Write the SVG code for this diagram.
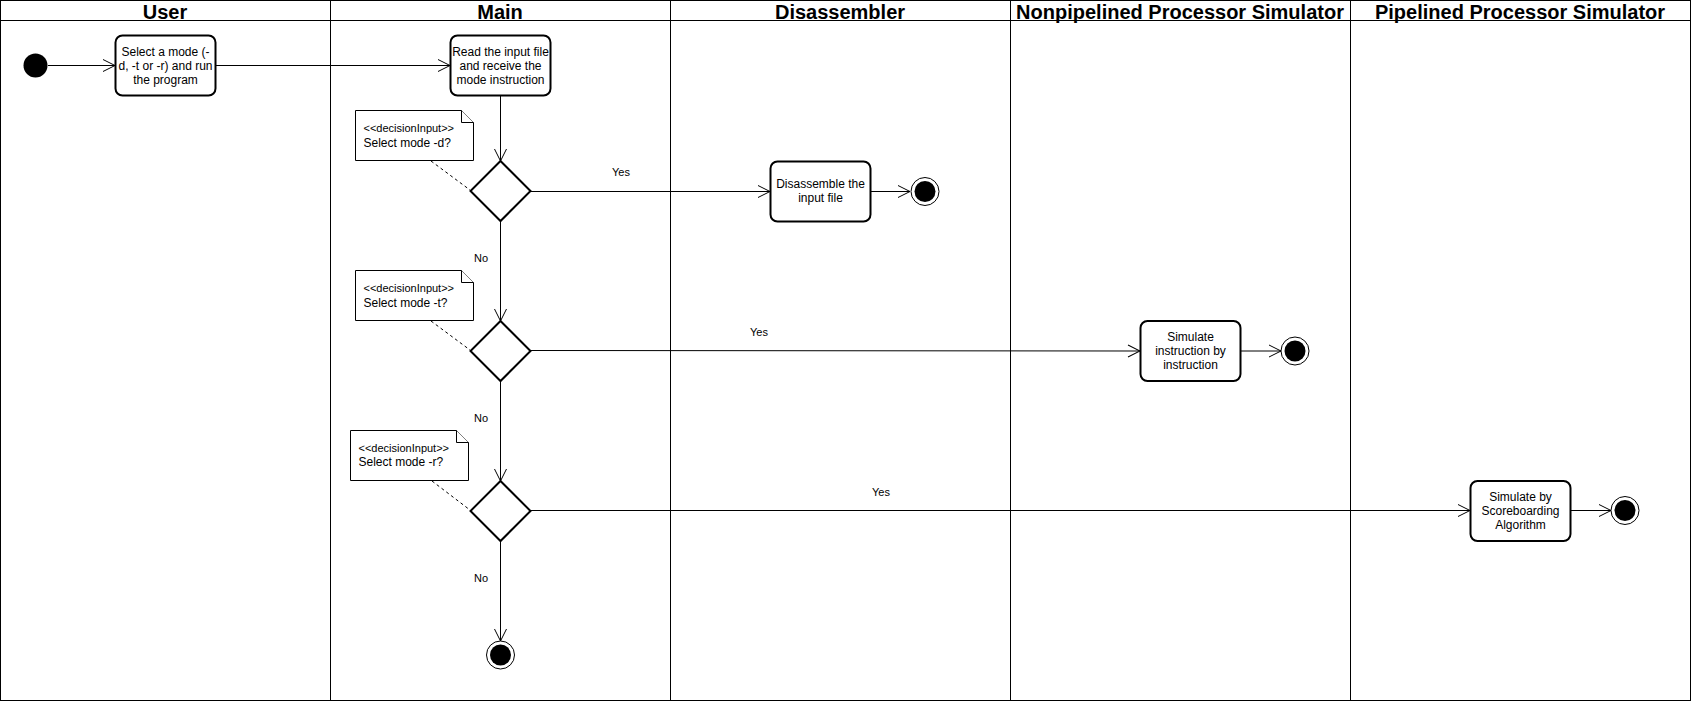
<svg xmlns="http://www.w3.org/2000/svg" width="1692" height="702" viewBox="0 0 1692 702">
<defs>
<style>
.lane{fill:none;stroke:#000;stroke-width:1}
.hdr{font-family:"Liberation Sans",Arial,sans-serif;font-size:20px;font-weight:bold;text-anchor:middle;fill:#000}
.act{fill:#fff;stroke:#000;stroke-width:2}
.t{font-family:"Liberation Sans",Arial,sans-serif;font-size:12px;text-anchor:middle;fill:#000}
.nt{font-family:"Liberation Sans",Arial,sans-serif;font-size:12px;fill:#000}
.st{font-family:"Liberation Sans",Arial,sans-serif;font-size:11px;fill:#000}
.lbl{font-family:"Liberation Sans",Arial,sans-serif;font-size:11px;text-anchor:middle;fill:#000}
.note{fill:#fff;stroke:#000;stroke-width:1}
.edge{fill:none;stroke:#000;stroke-width:1;marker-end:url(#open)}
.dash{fill:none;stroke:#000;stroke-width:1;stroke-dasharray:3,3}
</style>
<marker id="open" viewBox="0 0 14 14" refX="13" refY="7" markerWidth="14" markerHeight="14" markerUnits="userSpaceOnUse" orient="auto">
<path d="M1,1 L13,7 L1,13" fill="none" stroke="#000" stroke-width="1"/>
</marker>
</defs>
<rect width="1692" height="702" fill="#fff"/>
<g id="pool">
<rect class="lane" x="0.5" y="0.5" width="1690" height="700"/>
<line class="lane" x1="0" y1="20.5" x2="1691" y2="20.5"/>
<line class="lane" x1="330.5" y1="0" x2="330.5" y2="701"/>
<line class="lane" x1="670.5" y1="0" x2="670.5" y2="701"/>
<line class="lane" x1="1010.5" y1="0" x2="1010.5" y2="701"/>
<line class="lane" x1="1350.5" y1="0" x2="1350.5" y2="701"/>
<text class="hdr" x="165" y="19">User</text>
<text class="hdr" x="500" y="19">Main</text>
<text class="hdr" x="840" y="19">Disassembler</text>
<text class="hdr" x="1180" y="19">Nonpipelined Processor Simulator</text>
<text class="hdr" x="1520" y="19">Pipelined Processor Simulator</text>
</g>
<g id="connectors">
<line class="edge" x1="48" y1="65.5" x2="115" y2="65.5"/>
<line class="edge" x1="216" y1="65.5" x2="450" y2="65.5"/>
<line class="edge" x1="500.5" y1="96" x2="500.5" y2="161"/>
<line class="edge" x1="531" y1="191.5" x2="770" y2="191.5"/>
<line class="edge" x1="871" y1="191.5" x2="910" y2="191.5"/>
<line class="edge" x1="500.5" y1="222" x2="500.5" y2="321"/>
<line class="edge" x1="531" y1="350.5" x2="1140" y2="351"/>
<line class="edge" x1="1241" y1="351" x2="1281" y2="351"/>
<line class="edge" x1="500.5" y1="381" x2="500.5" y2="481"/>
<line class="edge" x1="531" y1="510.5" x2="1470" y2="510.5"/>
<line class="edge" x1="1571" y1="510.5" x2="1611" y2="510.5"/>
<line class="edge" x1="500.5" y1="541" x2="500.5" y2="641"/>
<line class="dash" x1="431" y1="161" x2="470" y2="190"/>
<line class="dash" x1="431" y1="321" x2="470" y2="350"/>
<line class="dash" x1="432" y1="481" x2="470" y2="510"/>
<text class="lbl" x="621" y="175.5">Yes</text>
<text class="lbl" x="481" y="262">No</text>
<text class="lbl" x="759" y="336">Yes</text>
<text class="lbl" x="481" y="422">No</text>
<text class="lbl" x="881" y="496">Yes</text>
<text class="lbl" x="481" y="582">No</text>
</g>
<g id="start">
<circle cx="35.5" cy="65.5" r="12" fill="#000"/>
</g>
<g id="select-mode">
<rect class="act" x="115.5" y="35.5" width="100" height="60" rx="7"/>
<text class="t" x="165.5" y="55.5">Select a mode (-</text>
<text class="t" x="165.5" y="69.5">d, -t or -r) and run</text>
<text class="t" x="165.5" y="83.5">the program</text>
</g>
<g id="read-input">
<rect class="act" x="450.5" y="35.5" width="100" height="60" rx="7"/>
<text class="t" x="500.5" y="55.5">Read the input file</text>
<text class="t" x="500.5" y="69.5">and receive the</text>
<text class="t" x="500.5" y="83.5">mode instruction</text>
</g>
<g id="decision-d">
<polygon class="act" points="500.5,161 530.5,191 500.5,221 470.5,191"/>
</g>
<g id="note-d">
<path class="note" d="M355.5,110.5 H461.5 L473.5,122.5 V160.5 H355.5 Z"/>
<path class="note" d="M461.5,110.5 V122.5 H473.5"/>
<text class="st" x="363.5" y="132">&lt;&lt;decisionInput&gt;&gt;</text>
<text class="nt" x="363.5" y="146.5">Select mode -d?</text>
</g>
<g id="disassemble">
<rect class="act" x="770.5" y="161.5" width="100" height="60" rx="7"/>
<text class="t" x="820.5" y="188">Disassemble the</text>
<text class="t" x="820.5" y="202">input file</text>
</g>
<g id="end-d">
<circle cx="925" cy="191.5" r="14" fill="#fff" stroke="#000" stroke-width="1"/>
<circle cx="925" cy="191.5" r="10.5" fill="#000"/>
</g>
<g id="decision-t">
<polygon class="act" points="500.5,321 530.5,351 500.5,381 470.5,351"/>
</g>
<g id="note-t">
<path class="note" d="M355.5,270.5 H461.5 L473.5,282.5 V320.5 H355.5 Z"/>
<path class="note" d="M461.5,270.5 V282.5 H473.5"/>
<text class="st" x="363.5" y="292">&lt;&lt;decisionInput&gt;&gt;</text>
<text class="nt" x="363.5" y="306.5">Select mode -t?</text>
</g>
<g id="simulate-instr">
<rect class="act" x="1140.5" y="321" width="100" height="60" rx="7"/>
<text class="t" x="1190.5" y="341">Simulate</text>
<text class="t" x="1190.5" y="355">instruction by</text>
<text class="t" x="1190.5" y="369">instruction</text>
</g>
<g id="end-t">
<circle cx="1295" cy="351" r="14" fill="#fff" stroke="#000" stroke-width="1"/>
<circle cx="1295" cy="351" r="10.5" fill="#000"/>
</g>
<g id="decision-r">
<polygon class="act" points="500.5,481 530.5,511 500.5,541 470.5,511"/>
</g>
<g id="note-r">
<path class="note" d="M350.5,430.5 H456.5 L468.5,442.5 V480.5 H350.5 Z"/>
<path class="note" d="M456.5,430.5 V442.5 H468.5"/>
<text class="st" x="358.5" y="451.5">&lt;&lt;decisionInput&gt;&gt;</text>
<text class="nt" x="358.5" y="466">Select mode -r?</text>
</g>
<g id="simulate-scoreboard">
<rect class="act" x="1470.5" y="481" width="100" height="60" rx="7"/>
<text class="t" x="1520.5" y="501">Simulate by</text>
<text class="t" x="1520.5" y="515">Scoreboarding</text>
<text class="t" x="1520.5" y="529">Algorithm</text>
</g>
<g id="end-r">
<circle cx="1625" cy="510.5" r="14" fill="#fff" stroke="#000" stroke-width="1"/>
<circle cx="1625" cy="510.5" r="10.5" fill="#000"/>
</g>
<g id="end-main">
<circle cx="500.5" cy="655" r="14" fill="#fff" stroke="#000" stroke-width="1"/>
<circle cx="500.5" cy="655" r="10.5" fill="#000"/>
</g>
</svg>
